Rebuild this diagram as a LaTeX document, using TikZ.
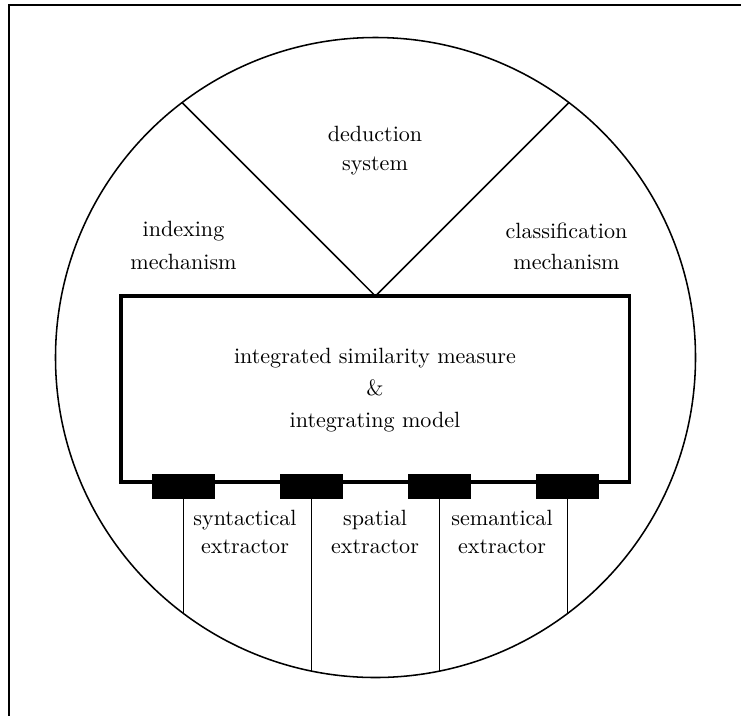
\documentclass[tikz,border=0pt]{standalone}
\begin{document}
\def\u{0.453pt}
\begin{tikzpicture}[x=\u, y=-\u,
  thinline/.style={line width=0.7pt},
  frameline/.style={line width=0.9pt},
  core/.style={draw, line width=1.8pt, inner sep=0pt, outer sep=0pt,
    minimum width=508.2*\u, minimum height=185.7*\u},
  port/.style={fill=black, draw=none, inner sep=0pt, outer sep=0pt,
    minimum width=63.5*\u, minimum height=25*\u},
  lbl/.style={anchor=base, inner sep=0pt, font=\normalsize}]
\useasboundingbox (0,0) rectangle (741,716);

% partial outer frame
\coordinate (fTL) at (9,5);
\coordinate (fTR) at (741,5);
\coordinate (fBL) at (9,716);
\draw[frameline] (fTR) -- (fTL) -- (fBL);

% enclosing circle
\coordinate (cc) at (375.5,357.5);
\draw[thinline] (cc) circle [radius=320];

% central box
\node[core] (model) at (375.4,388.85) {};

% V-shaped dividers from the top of the box to the circle
\coordinate (vL) at (182.1,102.6);
\coordinate (vR) at (568.9,102.6);
\draw[thinline] (vL) -- (model.north) -- (vR);

% extractor ports on the bottom edge
\foreach \n/\x in {p1/183.5, p2/311.5, p3/439.5, p4/567.5}
  \node[port] (\n) at (\x,486) {};

% lines from the ports down to the circle
\coordinate (e1) at (183.5,613.5);
\coordinate (e2) at (311.5,671);
\coordinate (e3) at (439.5,671);
\coordinate (e4) at (567.5,613.5);
\foreach \n in {1,2,3,4}
  \draw[thinline] (p\n.south) -- (e\n);

% region labels
\node[lbl] (ded1) at (375,141.7) {deduction};
\node[lbl] (ded2) at (375,170) {system};
\node[lbl] (idx1) at (183.5,236.7) {indexing};
\node[lbl] (idx2) at (183.5,269.3) {mechanism};
\node[lbl] (cls1) at (566.5,238.3) {classification};
\node[lbl] (cls2) at (566.5,269.3) {mechanism};

% box label
\node[lbl] (m1) at (375,363.3) {integrated similarity measure};
\node[lbl] (m2) at (375,395.3) {\&};
\node[lbl] (m3) at (375,427.3) {integrating model};

% extractor labels
\node[lbl] (syn1) at (245,525) {syntactical};
\node[lbl] (syn2) at (245,553) {extractor};
\node[lbl] (spa1) at (375,525) {spatial};
\node[lbl] (spa2) at (375,553) {extractor};
\node[lbl] (sem1) at (502,525) {semantical};
\node[lbl] (sem2) at (502,553) {extractor};
\end{tikzpicture}
\end{document}
